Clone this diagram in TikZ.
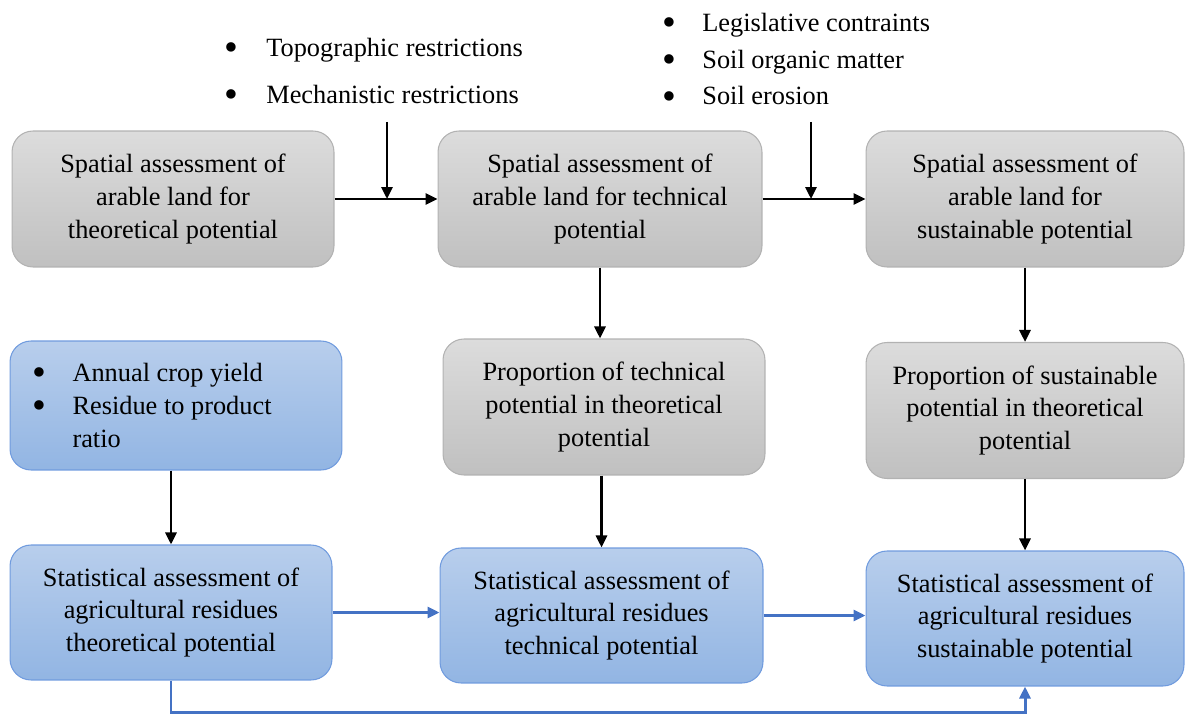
\documentclass[tikz,border=0pt]{standalone}
\usepackage{fontspec}
\setmainfont{Liberation Serif}
\usepackage{graphicx}
\usepackage{tikz}
\usetikzlibrary{arrows.meta, positioning, calc}
\usepackage{xcolor}
\definecolor{graytop}{RGB}{220,220,220}
\definecolor{graybot}{RGB}{192,192,192}
\definecolor{grayline}{RGB}{178,178,178}
\definecolor{bluetop}{RGB}{184,206,236}
\definecolor{bluebot}{RGB}{146,181,227}
\definecolor{blueline}{RGB}{112,155,222}
\definecolor{bluearrow}{RGB}{68,114,196}

\newcommand{\bul}[1]{\makebox[#1][l]{\smash{\raisebox{-0.35ex}{\scalebox{1.5}{\textbullet}}}}}

\begin{document}
\begin{tikzpicture}[
  x=0.02cm, y=-0.02cm,
  every node/.style={font=\rmfamily\fontsize{15}{18.7}\selectfont, inner sep=0pt},
  spbox/.style={rectangle, rounded corners=0.42cm, draw=grayline, line width=0.6pt,
                top color=graytop, bottom color=graybot, align=center,
                minimum height=2.72cm},
  stbox/.style={rectangle, rounded corners=0.42cm, draw=blueline, line width=0.6pt,
                top color=bluetop, bottom color=bluebot, align=center,
                minimum height=2.7cm},
  blk/.style={black, line width=1.6pt, -{Triangle[length=0.24cm, width=0.22cm]}},
  blu/.style={bluearrow, line width=1.7pt, -{Triangle[length=0.24cm, width=0.22cm]}},
  lst/.style={anchor=west, align=left},
]
  \useasboundingbox (0,0) rectangle (1186,716);

  % ── Spatial assessment (top row) ──
  \node[spbox, minimum width=6.44cm] (spTheo) at (173,199)
    {Spatial assessment of\\arable land for\\theoretical potential};
  \node[spbox, minimum width=6.48cm] (spTech) at (600,199)
    {Spatial assessment of\\arable land for technical\\potential};
  \node[spbox, minimum width=6.36cm] (spSust) at (1025,199)
    {Spatial assessment of\\arable land for\\sustainable potential};

  % ── Restrictions ──
  \node[lst, font=\rmfamily\fontsize{15}{27}\selectfont] (resTech) at (224,71)
    {\bul{0.84cm}Topographic restrictions\\\bul{0.84cm}Mechanistic restrictions};
  \node[lst, font=\rmfamily\fontsize{15}{21}\selectfont] (resSust) at (662,59)
    {\bul{0.8cm}Legislative contraints\\\bul{0.8cm}Soil organic matter\\\bul{0.8cm}Soil erosion};
  \coordinate (inTech) at (387,122);
  \coordinate (inSust) at (811,122);

  % ── Proportions (middle row) ──
  \node[stbox, minimum width=6.64cm, minimum height=2.58cm, align=flush left,
        text width=5.74cm, inner xsep=0.45cm] (inputs) at (176,405.5)
    {\bul{0.8cm}Annual crop yield\\\bul{0.8cm}Residue to product\\\hspace*{0.8cm}ratio};
  \node[spbox, minimum width=6.44cm] (propTech) at (604,407)
    {Proportion of technical\\potential in theoretical\\potential};
  \node[spbox, minimum width=6.36cm] (propSust) at (1025,410.5)
    {Proportion of sustainable\\potential in theoretical\\potential};

  % ── Statistical assessment (bottom row) ──
  \node[stbox, minimum width=6.44cm] (stTheo) at (171,612.5)
    {Statistical assessment of\\agricultural residues\\theoretical potential};
  \node[stbox, minimum width=6.46cm] (stTech) at (601.5,615.5)
    {Statistical assessment of\\agricultural residues\\technical potential};
  \node[stbox, minimum width=6.36cm] (stSust) at (1025,618.5)
    {Statistical assessment of\\agricultural residues\\sustainable potential};
  \coordinate (loop) at (600,712);

  % ── Black arrows ──
  \draw[blk] (spTheo.east) -- (spTheo.east -| spTech.west);
  \draw[blk] (spTech.east) -- (spTech.east -| spSust.west);
  \draw[blk] (inTech) -- (inTech |- spTheo.east);
  \draw[blk] (inSust) -- (inSust |- spTech.east);
  \draw[blk] (spTech.south) -- (spTech.south |- propTech.north);
  \draw[blk] (spSust.south) -- (spSust.south |- propSust.north);
  \draw[blk] (inputs.south -| stTheo) -- (stTheo.north);
  \draw[blk] (propTech.south -| stTech) -- (stTech.north);
  \draw[blk] (propSust.south) -- (stSust.north);

  % ── Blue arrows ──
  \draw[blu] (stTheo.east) -- (stTheo.east -| stTech.west);
  \draw[blu] (stTech.east) -- (stTech.east -| stSust.west);
  \draw[blu] (stTheo.south) |- (loop) -| (stSust.south);
\end{tikzpicture}
\end{document}
